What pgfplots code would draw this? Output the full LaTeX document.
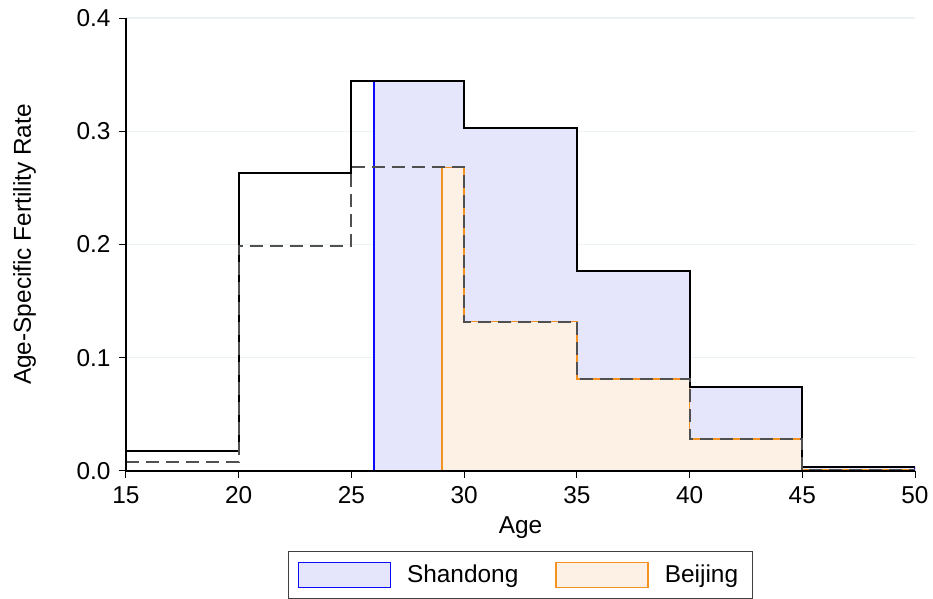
\documentclass[border=0pt]{standalone}
\usepackage{fontspec}
\setmainfont{Liberation Sans}
\usepackage{pgfplots}
\pgfplotsset{compat=1.18}
\definecolor{lav}{RGB}{229,229,251}
\definecolor{peach}{RGB}{252,241,228}
\definecolor{edgeblue}{RGB}{10,10,255}
\definecolor{edgeorange}{RGB}{245,145,30}
\definecolor{gridc}{RGB}{234,242,243}
\definecolor{dashc}{RGB}{80,80,80}
\pgfplotsset{
  layers/mylayers/.define layer set={
    axis background,axis grid,main,axis ticks,axis lines,axis tick labels,
    axis descriptions,axis foreground
  }{
    grid style={/pgfplots/on layer=axis grid},
    tick style={/pgfplots/on layer=axis ticks},
    axis line style={/pgfplots/on layer=axis lines},
    label style={/pgfplots/on layer=axis descriptions},
    legend style={/pgfplots/on layer=axis descriptions},
    title style={/pgfplots/on layer=axis descriptions},
    colorbar style={/pgfplots/on layer=axis descriptions},
    ticklabel style={/pgfplots/on layer=axis tick labels},
    axis background@ style={/pgfplots/on layer=axis background},
    3d box foreground style={/pgfplots/on layer=axis foreground},
  },
}
\newcommand{\fs}{\fontsize{12.2}{14.6}\selectfont}
\begin{document}
\fs
\begin{tikzpicture}
\begin{axis}[
  set layers=mylayers,
  scale only axis,
  width=394.5pt, height=226.5pt,
  xmin=15, xmax=50, ymin=0, ymax=0.4,
  xtick={15,20,...,50},
  ytick={0,0.1,0.2,0.3,0.4},
  axis x line=bottom, axis y line=left,
  axis line style={-, line width=0.6pt, black},
  tick align=outside,
  major tick length=3.5pt,
  tick style={black, line width=0.5pt},
  ymajorgrids,
  grid style={gridc, line width=0.6pt},
  /pgf/number format/assume math mode=true,
  yticklabel style={/pgf/number format/fixed, /pgf/number format/fixed zerofill, /pgf/number format/precision=1},
  xticklabel style={/pgf/number format/fixed},
  tick label style={font=\fs},
  label style={font=\fs},
  xlabel={Age},
  ylabel={Age-Specific Fertility Rate},
  xlabel style={yshift=2pt},
  ylabel style={yshift=12pt},
  const plot,
  legend columns=2,
  legend style={
    at={(axis description cs:0.5,0)}, anchor=north, yshift=-40pt,
    draw=black!75, line width=0.5pt,
    inner xsep=4.5pt, inner ysep=4.5pt,
    font=\fs,
    nodes={inner xsep=2.5pt, inner ysep=2pt},
    /tikz/every even column/.append style={column sep=16pt},
  },
  legend image code/.code={\draw[#1, line width=0.6pt] (0pt,-6.25pt) rectangle (46pt,6.25pt); \path (51.5pt,0pt);},
]
% Shandong fill (from age 26)
\addplot[fill=lav, draw=edgeblue, line width=0.6pt] coordinates {
  (26,0.344) (30,0.303) (35,0.177) (40,0.074) (45,0.0035) (50,0.0035)
} \closedcycle;
\addlegendentry{Shandong}
% Beijing fill (from age 29)
\addplot[fill=peach, draw=edgeorange, line width=0.9pt] coordinates {
  (29,0.268) (30,0.132) (35,0.081) (40,0.028) (45,0.0012) (50,0.0012)
} \closedcycle;
\addlegendentry{Beijing}
% Shandong ASFR
\addplot[black, line width=1pt, forget plot] coordinates {
  (15,0.018) (20,0.263) (25,0.344) (30,0.303) (35,0.177) (40,0.074) (45,0.0035) (50,0.0035)
};
% Beijing ASFR
\addplot[dashc, line width=1pt, dash pattern=on 6.5pt off 3.5pt, forget plot] coordinates {
  (15,0.008) (20,0.199) (25,0.268) (30,0.132) (35,0.081) (40,0.028) (45,0.0012) (50,0.0012)
};
\end{axis}
\pgfresetboundingbox
\path[use as bounding box] (-63pt,-64pt) rectangle (403.5pt,235.5pt);
\end{tikzpicture}
\end{document}
